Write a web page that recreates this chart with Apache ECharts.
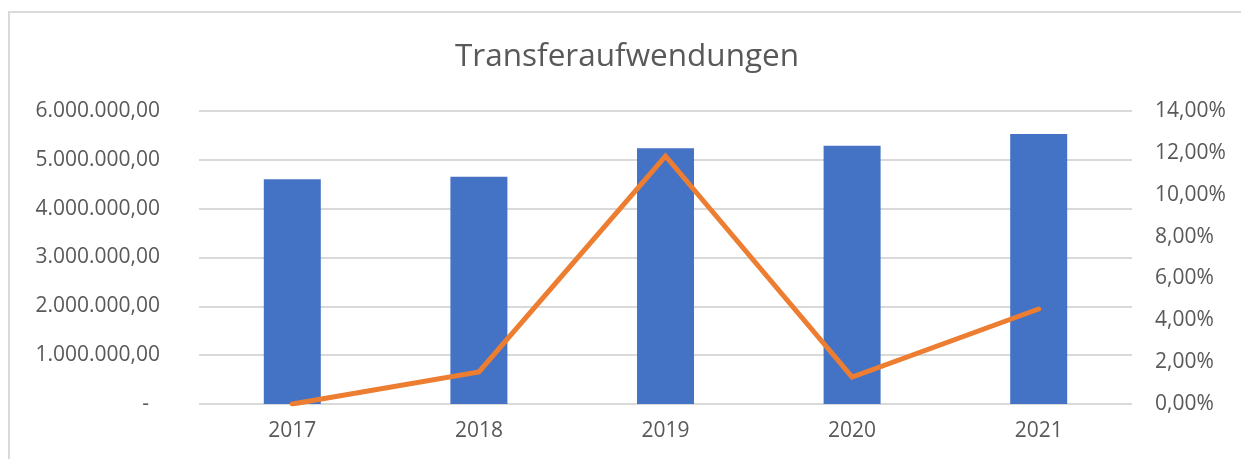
<!DOCTYPE html>
<html>
<head>
<meta charset="utf-8">
<script src="https://cdn.jsdelivr.net/npm/echarts@6/dist/echarts.min.js"></script>
<style>
  html, body { margin: 0; padding: 0; background: #fff; }
  #main { width: 1241px; height: 459px; }
</style>
</head>
<body>
<div id="main"></div>
<script>
// Daten
const years = ['2017', '2018', '2019', '2020', '2021'];
const amounts = [4600000, 4655000, 5236000, 5290000, 5530000];
const growth = [0, 1.53, 11.85, 1.29, 4.54]; // in %

const leftTicks = { min: 0, max: 6000000, interval: 1000000 };
const rightTicks = { min: 0, max: 14, interval: 2 };

const chart = echarts.init(document.getElementById('main'));

// 6.000.000,00 Format
function fmtEuro(v) {
    if (v === 0) return '-  ';
    const parts = v.toFixed(2).split('.');
    return parts[0].replace(/\B(?=(\d{3})+(?!\d))/g, '.') + ',' + parts[1];
}
function fmtPct(v) {
    return v.toFixed(2).replace('.', ',') + '%';
}

const labelFont = { color: '#595959', fontSize: 21, fontFamily: 'Open Sans' };

const option = {
    animation: false,
    title: {
        text: 'Transferaufwendungen',
        left: 450,
        top: 36,
        textStyle: { color: '#595959', fontSize: 31.5, fontWeight: 'normal', fontFamily: 'Open Sans' }
    },
    graphic: [{
        type: 'rect',
        shape: { x: 9, y: 12, width: 1300, height: 500 },
        style: { fill: 'none', stroke: '#d9d9d9', lineWidth: 2 }
    }],
    grid: { left: 199, right: 109, top: 111, bottom: 55 },
    xAxis: {
        type: 'category',
        data: years,
        axisTick: { show: false },
        axisLine: { show: false },
        axisLabel: Object.assign({ margin: 17 }, labelFont)
    },
    yAxis: [
        {
            type: 'value',
            min: leftTicks.min,
            max: leftTicks.max,
            interval: leftTicks.interval,
            axisLine: { show: false },
            axisTick: { show: false },
            splitLine: { lineStyle: { color: '#d9d9d9', width: 2 } },
            axisLabel: Object.assign({ margin: 39, formatter: fmtEuro }, labelFont)
        },
        {
            type: 'value',
            min: rightTicks.min,
            max: rightTicks.max,
            interval: rightTicks.interval,
            position: 'right',
            axisLine: { show: false },
            axisTick: { show: false },
            splitLine: { show: false },
            axisLabel: Object.assign({ margin: 23, formatter: fmtPct }, labelFont)
        }
    ],
    series: [
        {
            type: 'bar',
            data: amounts,
            barWidth: 57,
            itemStyle: { color: '#4472C4' }
        },
        {
            type: 'line',
            yAxisIndex: 1,
            data: growth,
            symbol: 'none',
            lineStyle: { color: '#ED7D31', width: 5, cap: 'round', join: 'miter' },
            z: 5
        }
    ]
};

chart.setOption(option);
</script>
</body>
</html>
